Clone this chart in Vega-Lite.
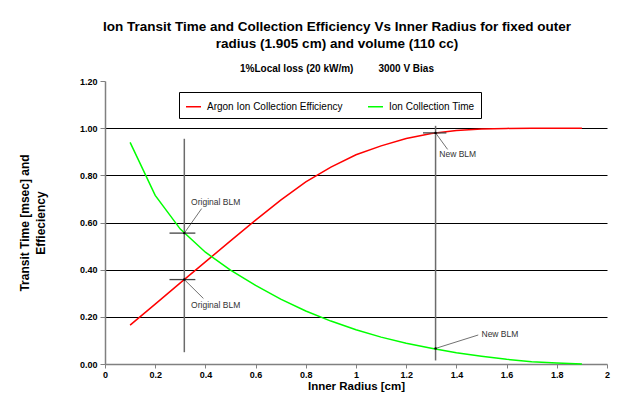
{
  "$schema": "https://vega.github.io/schema/vega-lite/v6.json",
  "width": 502,
  "height": 283,
  "autosize": {"type": "none"},
  "padding": {"left": 105, "top": 81, "right": 17, "bottom": 34},
  "background": "white",
  "config": {
    "font": "Liberation Sans",
    "view": {"stroke": null}
  },
  "title": {
    "text": ["Ion Transit Time and Collection Efficiency Vs Inner Radius for fixed outer", "radius (1.905 cm) and volume  (110 cc)"],
    "subtitle": "1%Local loss (20 kW/m)\u00a0\u00a0\u00a0\u00a0\u00a0\u00a0\u00a0\u00a0\u00a03000 V Bias",
    "anchor": "middle",
    "frame": "group",
    "dx": -19,
    "fontSize": 13.5,
    "fontWeight": "bold",
    "lineHeight": 16.5,
    "subtitleFontSize": 10,
    "subtitleFontWeight": "bold",
    "subtitlePadding": 14,
    "subtitleColor": "black",
    "color": "black",
    "offset": 3
  },
  "datasets": {
    "curves": [
      {"x": 0.1, "y": 0.165, "series": "Argon Ion Collection Efficiency"},
      {"x": 0.2, "y": 0.254, "series": "Argon Ion Collection Efficiency"},
      {"x": 0.3, "y": 0.344, "series": "Argon Ion Collection Efficiency"},
      {"x": 0.4, "y": 0.433, "series": "Argon Ion Collection Efficiency"},
      {"x": 0.5, "y": 0.522, "series": "Argon Ion Collection Efficiency"},
      {"x": 0.6, "y": 0.61, "series": "Argon Ion Collection Efficiency"},
      {"x": 0.7, "y": 0.695, "series": "Argon Ion Collection Efficiency"},
      {"x": 0.8, "y": 0.772, "series": "Argon Ion Collection Efficiency"},
      {"x": 0.9, "y": 0.835, "series": "Argon Ion Collection Efficiency"},
      {"x": 1.0, "y": 0.887, "series": "Argon Ion Collection Efficiency"},
      {"x": 1.1, "y": 0.925, "series": "Argon Ion Collection Efficiency"},
      {"x": 1.2, "y": 0.956, "series": "Argon Ion Collection Efficiency"},
      {"x": 1.3, "y": 0.977, "series": "Argon Ion Collection Efficiency"},
      {"x": 1.4, "y": 0.99, "series": "Argon Ion Collection Efficiency"},
      {"x": 1.5, "y": 0.996, "series": "Argon Ion Collection Efficiency"},
      {"x": 1.6, "y": 0.999, "series": "Argon Ion Collection Efficiency"},
      {"x": 1.7, "y": 1.0, "series": "Argon Ion Collection Efficiency"},
      {"x": 1.8, "y": 1.0, "series": "Argon Ion Collection Efficiency"},
      {"x": 1.9, "y": 1.0, "series": "Argon Ion Collection Efficiency"},
      {"x": 0.1, "y": 0.94, "series": "Ion Collection Time"},
      {"x": 0.2, "y": 0.715, "series": "Ion Collection Time"},
      {"x": 0.3, "y": 0.572, "series": "Ion Collection Time"},
      {"x": 0.4, "y": 0.474, "series": "Ion Collection Time"},
      {"x": 0.5, "y": 0.398, "series": "Ion Collection Time"},
      {"x": 0.6, "y": 0.333, "series": "Ion Collection Time"},
      {"x": 0.7, "y": 0.275, "series": "Ion Collection Time"},
      {"x": 0.8, "y": 0.225, "series": "Ion Collection Time"},
      {"x": 0.9, "y": 0.182, "series": "Ion Collection Time"},
      {"x": 1.0, "y": 0.145, "series": "Ion Collection Time"},
      {"x": 1.1, "y": 0.114, "series": "Ion Collection Time"},
      {"x": 1.2, "y": 0.088, "series": "Ion Collection Time"},
      {"x": 1.3, "y": 0.067, "series": "Ion Collection Time"},
      {"x": 1.4, "y": 0.048, "series": "Ion Collection Time"},
      {"x": 1.5, "y": 0.033, "series": "Ion Collection Time"},
      {"x": 1.6, "y": 0.02, "series": "Ion Collection Time"},
      {"x": 1.7, "y": 0.01, "series": "Ion Collection Time"},
      {"x": 1.8, "y": 0.004, "series": "Ion Collection Time"},
      {"x": 1.9, "y": 0.0, "series": "Ion Collection Time"}
    ],
    "vlines": [
      {"x": 0.316, "y": 0.05, "y2": 0.955},
      {"x": 1.317, "y": 0.015, "y2": 1.01}
    ],
    "hticks": [
      {"x": 0.257, "x2": 0.36, "y": 0.555},
      {"x": 0.257, "x2": 0.36, "y": 0.358},
      {"x": 1.267, "x2": 1.36, "y": 0.98}
    ],
    "leaders": [
      {"x": 0.316, "y": 0.555, "x2": 0.385, "y2": 0.659},
      {"x": 0.316, "y": 0.358, "x2": 0.392, "y2": 0.278},
      {"x": 1.317, "y": 0.98, "x2": 1.365, "y2": 0.91},
      {"x": 1.317, "y": 0.066, "x2": 1.487, "y2": 0.123}
    ],
    "labels": [
      {"x": 0.343, "y": 0.686, "label": "Original BLM"},
      {"x": 0.343, "y": 0.25, "label": "Original BLM"},
      {"x": 1.332, "y": 0.892, "label": "New BLM"},
      {"x": 1.5, "y": 0.127, "label": "New BLM"}
    ]
  },
  "encoding": {
    "x": {
      "field": "x",
      "type": "quantitative",
      "scale": {"domain": [0, 2], "nice": false, "zero": false},
      "axis": {
        "title": "Inner Radius [cm]",
        "titleFontSize": 11.5,
        "titleFontWeight": "bold",
        "titleColor": "black",
        "titlePadding": 1,
        "values": [0, 0.2, 0.4, 0.6, 0.8, 1, 1.2, 1.4, 1.6, 1.8, 2],
        "format": "~g",
        "labelFontSize": 9,
        "labelFontWeight": "bold",
        "labelColor": "black",
        "labelPadding": 2,
        "labelFlush": false,
        "labelOverlap": false,
        "domainColor": "#808080",
        "domainWidth": 1.5,
        "tickColor": "#808080",
        "tickSize": 4,
        "tickWidth": 1,
        "grid": false
      }
    },
    "y": {
      "field": "y",
      "type": "quantitative",
      "scale": {"domain": [0, 1.2], "nice": false, "zero": false},
      "axis": {
        "title": ["Transit Time [msec] and", "Effieciency"],
        "titleFontSize": 12,
        "titleFontWeight": "bold",
        "titleColor": "black",
        "titlePadding": 32,
        "titleLineHeight": 16,
        "values": [0, 0.2, 0.4, 0.6, 0.8, 1.0, 1.2],
        "format": ".2f",
        "labelFontSize": 9,
        "labelFontWeight": "bold",
        "labelColor": "black",
        "labelPadding": 3,
        "labelFlush": false,
        "domainColor": "#808080",
        "domainWidth": 1.5,
        "tickColor": "#808080",
        "tickSize": 5,
        "grid": true,
        "gridColor": {"condition": {"test": "datum.value >= 1.1 || datum.value <= 0.01", "value": "transparent"}, "value": "black"},
        "gridWidth": 1
      }
    }
  },
  "layer": [
    {
      "data": {"name": "vlines"},
      "mark": {"type": "rule", "color": "#6b6b6b", "strokeWidth": 1.5},
      "encoding": {"y2": {"field": "y2"}}
    },
    {
      "data": {"name": "curves"},
      "mark": {"type": "line", "strokeWidth": 1.5},
      "encoding": {
        "color": {
          "field": "series",
          "type": "nominal",
          "scale": {"domain": ["Argon Ion Collection Efficiency", "Ion Collection Time"], "range": ["#FF0000", "#00FF00"]},
          "legend": {
            "title": null,
            "orient": "none",
            "legendX": 74,
            "legendY": 11,
            "direction": "horizontal",
            "symbolType": "stroke",
            "symbolSize": 225,
            "symbolStrokeWidth": 1.5,
            "labelFontSize": 10,
            "labelColor": "black",
            "labelOffset": 5,
            "columnPadding": 22,
            "strokeColor": "black",
            "padding": 6,
            "fillColor": "white"
          }
        }
      }
    },
    {
      "data": {"name": "hticks"},
      "mark": {"type": "rule", "color": "#444444", "strokeWidth": 1.3},
      "encoding": {"x2": {"field": "x2"}}
    },
    {
      "data": {"name": "leaders"},
      "mark": {"type": "rule", "color": "#333333", "strokeWidth": 0.7},
      "encoding": {"x2": {"field": "x2"}, "y2": {"field": "y2"}}
    },
    {
      "data": {"name": "leaders"},
      "mark": {"type": "point", "filled": true, "color": "black", "size": 6, "opacity": 1}
    },
    {
      "data": {"name": "labels"},
      "mark": {"type": "text", "align": "left", "baseline": "middle", "fontSize": 8.5, "color": "#333333"},
      "encoding": {"text": {"field": "label"}}
    }
  ]
}
